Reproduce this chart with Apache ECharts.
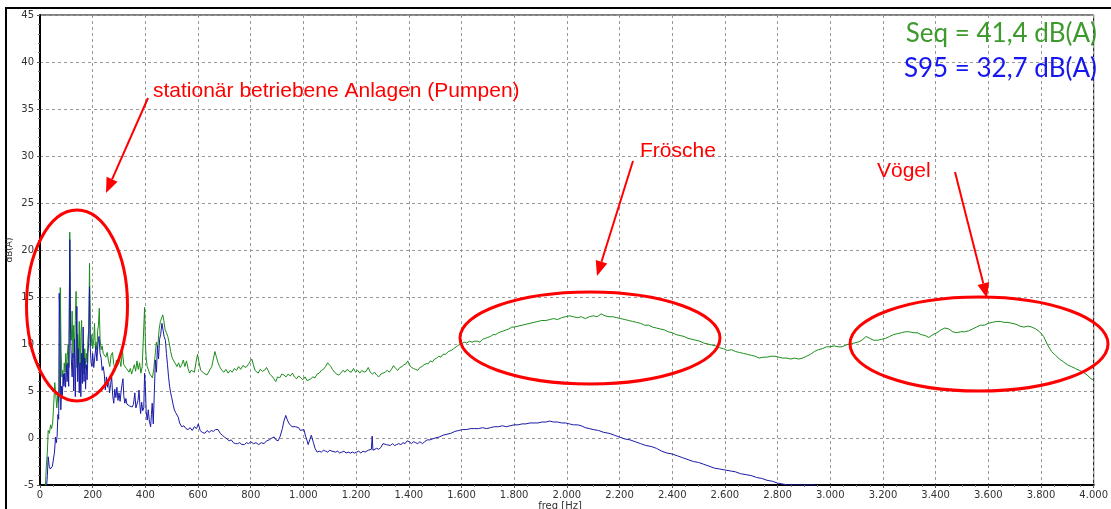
<!DOCTYPE html>
<html>
<head>
<meta charset="utf-8">
<script src="https://cdn.jsdelivr.net/npm/echarts@6/dist/echarts.min.js"></script>
<style>
  html, body { margin: 0; padding: 0; background: #fff; }
  #chart { width: 1111px; height: 509px; }
</style>
</head>
<body>
<div id="chart"></div>
<script>
// Seq spectrum (green) [freq Hz, dB(A)]
const seqSpectrum = [
  [20,-5.5],[24,-3],[28,-1.5],[31,0.8],[36,0.5],[40,1.4],[44,1.0],[48,1.6],[52,3.5],[56,5.9],[60,4.5],[64,3.2],[67,4.6],[70,3.8],[74,5.0],[77,16.0],[80,9.5],[83,6.5],[86,7.2],[89,5.8],[92,8.0],[95,7.0],[98,9.0],[101,7.4],[104,8.8],[107,10.0],[110,7.5],[113,21.9],[116,12.0],[119,10.4],[122,13.5],[125,8.5],[128,12.0],[131,9.0],[134,12.5],[137,15.6],[140,7.5],[143,11.0],[146,8.0],[149,12.4],[152,6.0],[155,10.8],[158,12.5],[161,7.5],[164,10.0],[167,6.8],[170,9.5],[173,7.4],[176,9.0],[179,8.0],[182,10.5],[185,11.5],[188,18.6],[191,10.6],[194,9.8],[197,11.0],[200,9.5],[204,10.4],[207,12.2],[210,9.6],[213,10.2],[216,9.4],[219,11.5],[222,12.0],[225,13.8],[228,10.6],[232,9.4],[236,9.8],[240,9.0],[245,8.9],[250,8.6],[255,9.1],[260,8.2],[265,7.6],[270,8.8],[275,9.1],[280,7.9],[285,7.2],[290,8.3],[296,7.8],[302,8.4],[307,7.6],[313,9.3],[318,7.8],[323,8.0],[328,7.4],[333,7.6],[338,7.0],[343,7.4],[348,6.8],[353,7.3],[358,7.8],[363,7.1],[368,8.2],[373,7.3],[378,8.0],[383,6.9],[388,7.6],[393,7.7],[397,13.9],[400,10.2],[403,8.5],[407,7.6],[412,7.7],[417,6.8],[422,6.6],[427,6.4],[432,7.4],[437,8.8],[442,10.2],[447,9.6],[452,11.5],[457,12.4],[462,12.8],[466,13.1],[470,12.5],[475,11.5],[480,11.2],[485,10.8],[490,10.2],[496,9.2],[502,8.5],[508,8.2],[514,7.9],[520,7.6],[526,8.0],[532,7.5],[538,7.8],[544,8.3],[550,7.6],[556,8.2],[562,7.4],[568,6.9],[574,7.2],[580,7.4],[586,7.0],[592,8.0],[598,8.9],[604,8.0],[610,7.2],[616,7.4],[622,6.9],[628,7.1],[634,6.7],[640,6.9],[646,7.3],[652,7.6],[658,8.4],[664,9.2],[670,8.6],[676,8.0],[682,7.6],[690,7.2],[698,7.0],[706,7.3],[714,6.9],[722,7.2],[730,7.0],[738,7.4],[746,7.2],[754,7.6],[762,7.3],[770,7.7],[776,7.9],[782,7.5],[790,7.8],[797,7.9],[804,8.4],[810,7.8],[816,7.2],[822,7.0],[828,6.9],[836,7.3],[844,7.1],[852,7.2],[860,7.5],[866,7.2],[872,6.8],[880,6.6],[888,6.3],[895,6.0],[902,6.5],[910,6.4],[918,6.8],[926,6.7],[934,6.5],[942,6.8],[950,6.6],[958,6.9],[966,6.5],[974,6.3],[982,6.6],[990,6.4],[998,6.2],[1006,6.5],[1014,6.1],[1020,6.0],[1028,6.3],[1036,6.5],[1044,6.4],[1052,6.8],[1060,6.9],[1068,7.2],[1076,7.3],[1084,7.6],[1092,8.0],[1098,7.9],[1104,7.6],[1110,7.3],[1118,7.0],[1126,6.8],[1134,6.7],[1142,6.9],[1150,7.2],[1158,7.0],[1166,7.3],[1174,7.1],[1182,7.0],[1190,7.4],[1198,7.0],[1206,7.2],[1214,6.9],[1222,7.2],[1230,7.0],[1238,7.1],[1246,7.5],[1254,7.0],[1262,6.8],[1270,7.0],[1278,6.7],[1286,6.5],[1294,6.8],[1302,6.9],[1310,7.0],[1318,7.2],[1326,7.0],[1334,7.3],[1342,7.7],[1350,7.4],[1358,7.2],[1366,7.5],[1374,7.6],[1382,7.8],[1390,7.9],[1396,8.2],[1402,7.8],[1410,7.5],[1418,7.4],[1426,7.3],[1434,7.2],[1442,7.5],[1450,7.6],[1458,7.8],[1466,7.9],[1474,7.9],[1482,8.2],[1490,8.1],[1498,8.4],[1506,8.5],[1514,8.7],[1522,8.6],[1530,8.9],[1540,8.9],[1550,9.2],[1560,9.3],[1570,9.5],[1580,9.7],[1590,9.9],[1600,10.0],[1610,10.2],[1620,10.1],[1630,10.3],[1640,10.2],[1650,10.3],[1660,10.3],[1670,10.2],[1680,10.5],[1690,10.6],[1700,10.7],[1710,10.8],[1720,11.0],[1730,11.0],[1740,11.2],[1750,11.3],[1760,11.4],[1770,11.5],[1780,11.6],[1790,11.8],[1800,11.8],[1815,11.9],[1830,12.0],[1845,12.1],[1860,12.2],[1875,12.3],[1890,12.4],[1905,12.5],[1920,12.5],[1935,12.6],[1950,12.7],[1965,12.6],[1980,12.8],[1995,12.9],[2010,13.0],[2025,12.9],[2040,12.8],[2055,12.9],[2070,12.7],[2085,12.9],[2100,13.0],[2115,12.9],[2130,13.2],[2145,13.0],[2160,12.9],[2175,12.9],[2190,12.8],[2205,12.7],[2220,12.6],[2235,12.5],[2250,12.4],[2265,12.3],[2280,12.2],[2295,12.0],[2310,12.0],[2325,11.8],[2340,11.7],[2355,11.6],[2370,11.5],[2385,11.3],[2400,11.2],[2415,11.0],[2430,10.9],[2445,10.8],[2460,10.6],[2475,10.5],[2490,10.4],[2505,10.3],[2520,10.1],[2535,10.0],[2550,9.9],[2565,9.8],[2580,9.6],[2595,9.5],[2610,9.3],[2625,9.4],[2640,9.2],[2655,9.1],[2670,9.0],[2685,8.9],[2700,8.8],[2715,8.7],[2730,8.5],[2745,8.6],[2760,8.6],[2775,8.7],[2790,8.7],[2805,8.6],[2820,8.5],[2835,8.5],[2850,8.4],[2865,8.5],[2880,8.4],[2895,8.5],[2910,8.7],[2925,8.9],[2940,9.2],[2955,9.4],[2970,9.5],[2985,9.7],[3000,9.7],[3015,9.8],[3030,9.7],[3045,9.7],[3060,9.9],[3075,10.0],[3090,10.1],[3105,10.2],[3120,10.4],[3136,10.8],[3150,10.6],[3165,10.4],[3180,10.4],[3195,10.5],[3210,10.6],[3225,10.8],[3240,11.0],[3255,11.1],[3270,11.2],[3285,11.3],[3300,11.3],[3315,11.2],[3330,11.2],[3345,11.0],[3360,10.9],[3374,10.7],[3390,11.0],[3405,11.2],[3420,11.5],[3435,11.7],[3450,11.6],[3465,11.3],[3480,11.2],[3495,11.3],[3510,11.3],[3525,11.4],[3540,11.6],[3555,11.8],[3570,12.0],[3585,12.0],[3600,12.2],[3615,12.3],[3630,12.4],[3645,12.4],[3660,12.3],[3675,12.3],[3690,12.2],[3705,12.1],[3720,11.9],[3735,11.8],[3750,11.9],[3765,11.8],[3780,11.6],[3795,11.3],[3810,10.8],[3825,9.9],[3840,9.2],[3855,8.8],[3870,8.4],[3885,8.1],[3900,7.8],[3915,7.6],[3930,7.4],[3945,7.2],[3960,7.0],[3975,6.7],[3990,6.3],[4000,6.2]
];

// S95 spectrum (blue) [freq Hz, dB(A)]
const s95Spectrum = [
  [20,-6],[24,-5.5],[28,-4],[31,-2.0],[35,-3.0],[39,-3.3],[43,-3.5],[47,-3.0],[51,-2.8],[55,-1.5],[59,0.1],[62,-0.5],[65,0.2],[68,2.5],[71,2.0],[73,15.4],[76,11.0],[79,3.0],[82,5.5],[85,4.5],[88,6.8],[91,5.5],[94,6.9],[97,5.4],[100,7.8],[103,6.0],[106,8.0],[109,5.5],[111,12.0],[113,21.1],[116,11.0],[119,8.3],[122,6.5],[125,9.0],[128,5.0],[131,10.5],[134,4.4],[137,9.5],[140,14.0],[143,6.0],[146,9.5],[149,4.8],[152,8.0],[155,4.4],[158,9.0],[161,5.8],[164,11.8],[167,6.0],[170,8.5],[173,5.2],[176,7.8],[179,6.2],[182,9.0],[185,10.2],[188,16.1],[191,9.5],[194,8.0],[197,7.6],[200,9.0],[204,7.5],[208,8.6],[212,9.7],[216,8.2],[220,10.0],[224,10.8],[228,9.0],[232,8.5],[236,7.2],[240,7.6],[244,6.8],[248,5.1],[252,6.5],[256,5.4],[260,6.2],[264,4.8],[268,5.7],[272,6.5],[276,4.5],[280,3.7],[284,5.2],[288,4.3],[292,5.4],[296,4.0],[300,4.8],[304,3.9],[308,5.0],[312,5.8],[315,6.3],[318,4.5],[322,3.7],[326,4.2],[330,3.6],[335,3.8],[340,3.4],[345,3.5],[350,3.3],[355,3.6],[360,4.8],[364,3.2],[368,3.0],[372,4.0],[376,5.1],[379,3.6],[382,2.6],[386,3.8],[390,2.9],[394,3.2],[397,6.9],[400,5.5],[403,2.8],[407,1.9],[411,3.0],[415,1.8],[420,1.2],[423,2.5],[426,3.7],[430,1.5],[434,4.8],[438,8.3],[442,7.0],[446,9.8],[450,8.4],[454,10.5],[458,11.0],[463,12.2],[467,11.5],[471,10.8],[476,10.4],[480,9.0],[484,7.8],[488,6.5],[492,5.5],[496,4.8],[500,4.3],[505,3.6],[510,3.0],[515,2.7],[520,2.9],[525,2.2],[530,1.6],[538,1.2],[546,1.3],[554,1.0],[562,0.9],[570,1.1],[578,0.8],[586,1.2],[594,1.0],[601,1.5],[608,0.8],[616,0.6],[626,0.5],[634,0.8],[642,0.6],[650,0.8],[658,0.7],[666,0.9],[676,0.9],[684,0.5],[692,0.3],[700,0.1],[710,-0.1],[718,-0.3],[726,-0.2],[734,-0.5],[742,-0.6],[750,-0.6],[758,-0.5],[766,-0.7],[776,-0.7],[784,-0.5],[792,-0.6],[800,-0.4],[810,-0.6],[820,-0.5],[830,-0.7],[840,-0.5],[851,-0.6],[860,-0.3],[870,-0.2],[880,0.0],[889,0.1],[896,-0.2],[904,-0.3],[912,0.2],[920,1.0],[926,1.8],[933,2.4],[938,2.0],[944,1.6],[950,1.4],[956,1.2],[962,1.3],[970,1.2],[976,1.0],[982,1.1],[988,0.8],[994,1.0],[1002,0.9],[1008,0.2],[1014,-0.3],[1018,-0.7],[1024,-0.2],[1030,0.3],[1033,0.4],[1038,-0.5],[1044,-1.1],[1052,-1.5],[1060,-1.4],[1068,-1.5],[1076,-1.3],[1084,-1.4],[1092,-1.5],[1100,-1.3],[1108,-1.4],[1114,-1.4],[1122,-1.5],[1130,-1.4],[1138,-1.6],[1146,-1.5],[1154,-1.4],[1162,-1.6],[1170,-1.5],[1178,-1.6],[1186,-1.5],[1194,-1.6],[1202,-1.5],[1210,-1.4],[1218,-1.6],[1226,-1.4],[1234,-1.5],[1240,-1.5],[1246,-1.3],[1252,-1.4],[1258,-1.2],[1261,0.2],[1264,-1.3],[1270,-1.4],[1278,-1.1],[1286,-1.2],[1294,-1.0],[1302,-0.6],[1308,-0.8],[1315,-0.7],[1322,-0.9],[1330,-0.8],[1338,-0.6],[1346,-0.8],[1354,-0.7],[1362,-0.6],[1370,-0.7],[1378,-0.5],[1386,-0.6],[1394,-0.3],[1402,-0.4],[1410,-0.6],[1418,-0.4],[1426,-0.5],[1434,-0.6],[1442,-0.4],[1452,-0.6],[1460,-0.4],[1470,-0.2],[1480,-0.2],[1490,-0.1],[1500,0.0],[1515,0.1],[1530,0.3],[1545,0.4],[1560,0.5],[1575,0.7],[1590,0.8],[1605,0.9],[1620,0.9],[1635,1.0],[1650,1.0],[1665,1.0],[1680,1.1],[1695,1.0],[1710,1.1],[1725,1.2],[1740,1.2],[1755,1.3],[1770,1.2],[1785,1.3],[1800,1.4],[1815,1.4],[1830,1.5],[1845,1.5],[1860,1.6],[1875,1.6],[1890,1.6],[1905,1.7],[1920,1.7],[1935,1.8],[1950,1.7],[1965,1.7],[1980,1.6],[1995,1.6],[2010,1.5],[2025,1.4],[2040,1.4],[2055,1.3],[2070,1.1],[2085,1.0],[2100,0.9],[2120,0.8],[2140,0.6],[2160,0.5],[2180,0.3],[2200,0.1],[2220,-0.1],[2240,-0.2],[2260,-0.4],[2280,-0.6],[2300,-0.8],[2320,-0.9],[2340,-1.1],[2360,-1.4],[2380,-1.6],[2400,-1.7],[2420,-1.9],[2440,-2.1],[2460,-2.3],[2480,-2.5],[2500,-2.6],[2520,-2.8],[2540,-3.0],[2560,-3.2],[2580,-3.3],[2600,-3.4],[2620,-3.5],[2640,-3.6],[2660,-3.8],[2680,-3.9],[2700,-4.0],[2720,-4.2],[2740,-4.3],[2760,-4.5],[2780,-4.6],[2800,-4.8],[2820,-4.9],[2840,-5.0],[2870,-5.0],[2900,-5.0],[2940,-5.0],[2960,-5.6]
];

const legendLines = ['Seq = 41,4 dB(A)', 'S95 = 32,7 dB(A)'];
const notes = ['stationär betriebene Anlagen (Pumpen)', 'Frösche', 'Vögel'];

const RED = '#ff0000';

function arrow(x1, y1, x2, y2) {
  const a = Math.atan2(y2 - y1, x2 - x1);
  const len = 15, hw = 6;
  const bx = x2 - len * Math.cos(a), by = y2 - len * Math.sin(a);
  const px = -Math.sin(a) * hw, py = Math.cos(a) * hw;
  return [
    { type: 'line', shape: { x1: x1, y1: y1, x2: bx, y2: by }, style: { stroke: RED, lineWidth: 2 }, z: 100 },
    { type: 'polygon', shape: { points: [[x2, y2], [bx + px, by + py], [bx - px, by - py]] }, style: { fill: RED }, z: 100 }
  ];
}

function ellipse(cx, cy, rx, ry) {
  return { type: 'ellipse', shape: { cx: cx, cy: cy, rx: rx, ry: ry }, style: { fill: null, stroke: RED, lineWidth: 3 }, z: 100 };
}

const chart = echarts.init(document.getElementById('chart'));

const option = {
  animation: false,
  backgroundColor: '#fff',
  grid: { left: 40, right: 9, top: 15, bottom: 24, show: true, borderColor: '#000', borderWidth: 1 },
  xAxis: {
    type: 'value',
    min: 0, max: 4000, interval: 200,
    axisLine: { show: true, onZero: false, lineStyle: { color: '#000', width: 2 } },
    axisTick: { show: true, length: 3, lineStyle: { color: '#555' } },
    minorTick: { show: true, splitNumber: 4, length: 2, lineStyle: { color: '#777' } },
    axisLabel: {
      color: '#333', fontFamily: 'DejaVu Sans', fontSize: 10, margin: 5,
      formatter: v => v >= 1000 ? (v / 1000).toFixed(3) : String(v)
    },
    splitLine: { show: true, lineStyle: { color: '#999', type: [3, 3], width: 1 } }
  },
  yAxis: {
    type: 'value',
    min: -5, max: 45, interval: 5,
    axisLine: { show: true, onZero: false, lineStyle: { color: '#000', width: 2 } },
    axisTick: { show: true, length: 3, lineStyle: { color: '#555' } },
    minorTick: { show: true, splitNumber: 5, length: 2, lineStyle: { color: '#777' } },
    axisLabel: { color: '#333', fontFamily: 'DejaVu Sans', fontSize: 10, margin: 6 },
    splitLine: { show: true, lineStyle: { color: '#999', type: [3, 3], width: 1 } }
  },
  series: [
    {
      name: 'Seq', type: 'line', data: seqSpectrum, showSymbol: false, clip: true,
      lineStyle: { color: '#1c8c1c', width: 1 }, z: 3
    },
    {
      name: 'S95', type: 'line', data: s95Spectrum, showSymbol: false, clip: true,
      lineStyle: { color: '#1a1aa6', width: 1 }, z: 4
    }
  ],
  graphic: [
    { type: 'rect', shape: { x: 6, y: 8, width: 1130, height: 540 }, style: { fill: null, stroke: '#000', lineWidth: 2 }, z: 100 },
    { type: 'text', x: 10, y: 250, rotation: Math.PI / 2, style: { text: 'dB(A)', fill: '#333', font: '9px "DejaVu Sans"', align: 'center', verticalAlign: 'middle' }, z: 100 },
    { type: 'text', x: 560, y: 506, style: { text: 'freq [Hz]', fill: '#333', font: '10px "DejaVu Sans"', align: 'center', verticalAlign: 'middle' }, z: 100 },
    { type: 'text', x: 1097, y: 34, style: { text: legendLines[0], fill: '#3c9b2c', font: '26px Lato', align: 'right', verticalAlign: 'middle' }, z: 100 },
    { type: 'text', x: 1097, y: 69, style: { text: legendLines[1], fill: '#1616ee', font: '26px Lato', align: 'right', verticalAlign: 'middle' }, z: 100 },
    { type: 'text', x: 153, y: 91, style: { text: notes[0], fill: RED, font: '21px "Liberation Sans"', align: 'left', verticalAlign: 'middle' }, z: 100 },
    { type: 'text', x: 640, y: 151, style: { text: notes[1], fill: RED, font: '21px "Liberation Sans"', align: 'left', verticalAlign: 'middle' }, z: 100 },
    { type: 'text', x: 877, y: 171, style: { text: notes[2], fill: RED, font: '21px "Liberation Sans"', align: 'left', verticalAlign: 'middle' }, z: 100 },
    ellipse(77, 305.5, 50.5, 95.5),
    ellipse(590, 338, 130, 46),
    ellipse(979, 344, 129, 47)
  ].concat(arrow(148, 98, 106, 193), arrow(633, 161, 597, 276), arrow(955, 172, 987, 298))
};

chart.setOption(option);
</script>
</body>
</html>
